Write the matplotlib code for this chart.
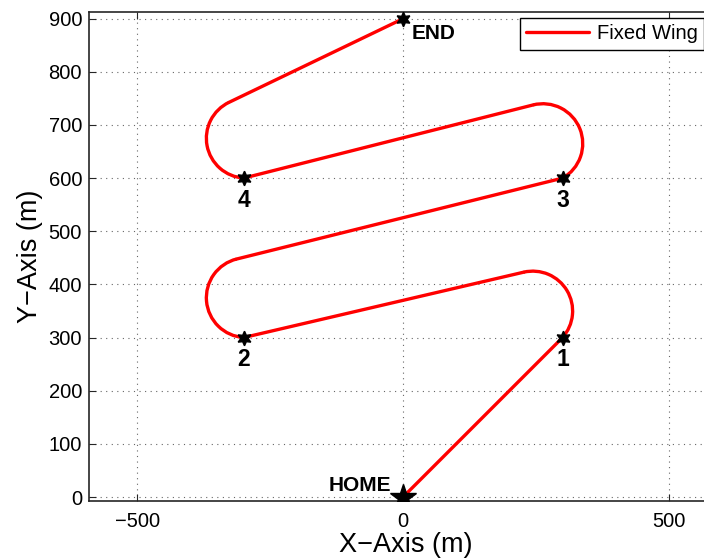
import numpy as np
import matplotlib
matplotlib.use("Agg")
import matplotlib.pyplot as plt
from matplotlib.patches import Arc

plt.rcParams["font.family"] = ["Liberation Sans", "DejaVu Sans"]

# Mission waypoints (m)
wp_x = [0, 300, -300, 300, -300, 0]
wp_y = [0, 300, 300, 600, 600, 900]
wp_names = ["HOME", "1", "2", "3", "4", "END"]

# Turn circles flown at waypoints 1-4 (centre, radius, arc span in degrees)
turn_cx = [244, -295, 263, -295]
turn_cy = [350, 375, 665, 675]
turn_r = 75
arc_theta1 = [-41.8, 103.9, -60.4, 115.6]
arc_theta2 = [103.1, 266.2, 104.2, 266.2]
exit_deg = [103.1, 103.9, 104.2, 115.6]

red = "#ff0000"
lw = 2.4

fig = plt.figure(figsize=(7.04, 5.6), dpi=100)
ax = fig.add_axes([89 / 704, 59 / 560, 633 / 704, 489 / 560])

# straight legs: HOME -> 1, then from each turn exit to the next waypoint
leg_x0 = [wp_x[0]] + [cx + turn_r * np.cos(np.radians(a)) for cx, a in zip(turn_cx, exit_deg)]
leg_y0 = [wp_y[0]] + [cy + turn_r * np.sin(np.radians(a)) for cy, a in zip(turn_cy, exit_deg)]
line = None
for i in range(5):
    h, = ax.plot([leg_x0[i], wp_x[i + 1]], [leg_y0[i], wp_y[i + 1]],
                 color=red, lw=lw, solid_capstyle="round", zorder=3)
    if line is None:
        line = h

for cx, cy, t1, t2 in zip(turn_cx, turn_cy, arc_theta1, arc_theta2):
    ax.add_patch(Arc((cx, cy), 2 * turn_r, 2 * turn_r, theta1=t1, theta2=t2,
                     color=red, lw=lw, zorder=3))

# waypoint markers
ax.plot(wp_x[1:], wp_y[1:], linestyle="none", marker=(6, 1, 0), ms=10.5,
        color="k", zorder=5)
ax.plot(wp_x[0], wp_y[0], linestyle="none", marker="*", ms=19,
        color="k", zorder=5)

# waypoint labels
for name, x, y in zip(wp_names, wp_x, wp_y):
    if name == "HOME":
        ax.text(x - 22, y + 22, name, ha="right", va="center",
                fontsize=15, weight="bold")
    elif name == "END":
        ax.text(x + 16, y - 28, name, ha="left", va="center",
                fontsize=15, weight="bold")
    else:
        ax.text(x, y - 42, name, ha="center", va="center",
                fontsize=16.5, weight="bold")

ax.set_xlim(-590.8, 600)
ax.set_ylim(-7.5, 912.6)
ax.set_xticks([-500, 0, 500])
ax.set_yticks(np.arange(0, 901, 100))
ax.set_xticklabels(["\u2212500", "0", "500"])
ax.grid(True, color="0.4", linestyle=(0, (1, 4)), lw=0.8)
ax.tick_params(direction="in", length=5, top=True, right=True,
               labelsize=14.5, color="0.15")
ax.tick_params(axis="x", pad=8)
ax.tick_params(axis="y", pad=5)
for s in ax.spines.values():
    s.set_linewidth(1.2)
    s.set_color("0.15")

ax.set_xlabel("X\u2212Axis (m)", fontsize=19.5, labelpad=1)
ax.set_ylabel("Y\u2212Axis (m)", fontsize=19.5, labelpad=4)

fig.legend(handles=[line], labels=["Fixed Wing"], loc="upper right",
           bbox_to_anchor=(1.0, 1 - 18 / 560), bbox_transform=fig.transFigure,
           borderaxespad=0, fancybox=False, edgecolor="k", framealpha=1,
           fontsize=14.5, handlelength=3.1, handletextpad=0.4,
           borderpad=0.32)

fig.savefig("out.png", dpi=100)
